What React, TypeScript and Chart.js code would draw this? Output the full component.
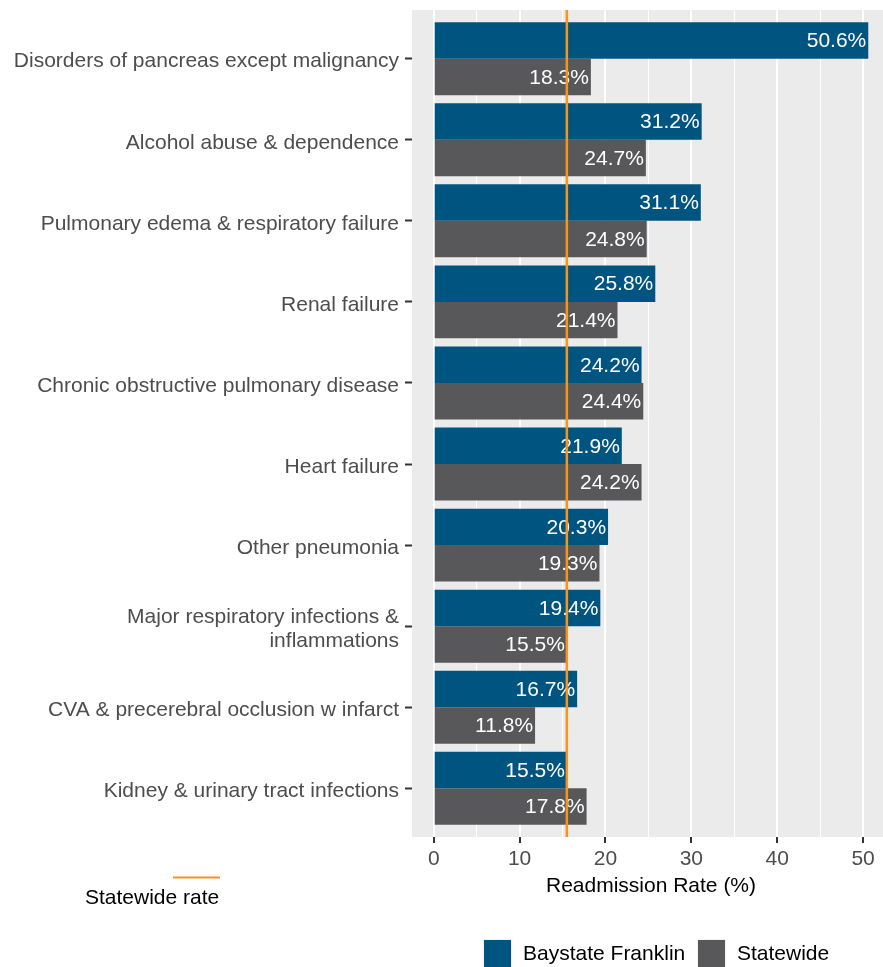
import React, { useEffect, useRef } from "react";
import { Chart, registerables } from "chart.js";

Chart.register(...registerables);

const categories: (string | string[])[] = [
  "Disorders of pancreas except malignancy",
  "Alcohol abuse & dependence",
  "Pulmonary edema & respiratory failure",
  "Renal failure",
  "Chronic obstructive pulmonary disease",
  "Heart failure",
  "Other pneumonia",
  ["Major respiratory infections &", "inflammations"],
  "CVA & precerebral occlusion w infarct",
  "Kidney & urinary tract infections",
];
const baystateValues = [50.6, 31.2, 31.1, 25.8, 24.2, 21.9, 20.3, 19.4, 16.7, 15.5];
const statewideValues = [18.3, 24.7, 24.8, 21.4, 24.4, 24.2, 19.3, 15.5, 11.8, 17.8];
const statewideRate = 15.5;
const xTickValues = [0, 5, 10, 15, 20, 25, 30, 35, 40, 45, 50];
const seriesNames = ["Baystate Franklin", "Statewide"];

const BLUE = "#005580";
const GRAY = "#58585B";
const ORANGE = "#F7941D";
const PANEL = "#EBEBEB";
const FONT = '"Liberation Sans", Arial, sans-serif';

export default function App() {
  const ref = useRef<HTMLCanvasElement>(null);

  useEffect(() => {
    if (!ref.current) return;

    const panelPlugin = {
      id: "panelBg",
      beforeDraw(chart: any) {
        const { ctx, chartArea } = chart;
        ctx.save();
        ctx.fillStyle = PANEL;
        ctx.fillRect(chartArea.left, chartArea.top, chartArea.right - chartArea.left, chartArea.bottom - chartArea.top);
        ctx.restore();
      },
    };

    const overlayPlugin = {
      id: "overlay",
      afterDatasetsDraw(chart: any) {
        const { ctx, chartArea } = chart;
        const xs = chart.scales.x;
        ctx.save();
        ctx.font = `21px ${FONT}`;
        ctx.fillStyle = "#FFFFFF";
        ctx.textAlign = "right";
        ctx.textBaseline = "middle";
        chart.data.datasets.forEach((ds: any, di: number) => {
          const meta = chart.getDatasetMeta(di);
          meta.data.forEach((el: any, i: number) => {
            const v = ds.data[i].x;
            ctx.fillText(`${v.toFixed(1)}%`, el.x - 2, el.y + 1);
          });
        });
        const px = xs.getPixelForValue(statewideRate);
        ctx.strokeStyle = ORANGE;
        ctx.lineWidth = 2.5;
        ctx.beginPath();
        ctx.moveTo(px, chartArea.top);
        ctx.lineTo(px, chartArea.bottom);
        ctx.stroke();
        ctx.restore();
      },
      afterDraw(chart: any) {
        const { ctx, chartArea } = chart;
        ctx.save();
        ctx.font = `21px ${FONT}`;
        ctx.fillStyle = "#000000";
        ctx.textAlign = "center";
        ctx.textBaseline = "middle";
        ctx.fillText("Readmission Rate (%)", (chartArea.left + chartArea.right) / 2, 886);
        ctx.strokeStyle = ORANGE;
        ctx.lineWidth = 2;
        ctx.beginPath();
        ctx.moveTo(173, 877.5);
        ctx.lineTo(220, 877.5);
        ctx.stroke();
        ctx.textAlign = "left";
        ctx.fillText("Statewide rate", 85, 898);
        const items = [
          { x: 484, color: BLUE, label: seriesNames[0] },
          { x: 698, color: GRAY, label: seriesNames[1] },
        ];
        items.forEach((it) => {
          ctx.fillStyle = "#F2F2F2";
          ctx.fillRect(it.x - 1, 939, 29, 29);
          ctx.fillStyle = it.color;
          ctx.fillRect(it.x, 940, 27, 27);
          ctx.fillStyle = "#000000";
          ctx.fillText(it.label, it.x + 39, 954);
        });
        ctx.restore();
      },
    };

    const chart = new Chart(ref.current, {
      type: "bar",
      data: {
        datasets: [
          {
            label: seriesNames[0],
            data: baystateValues.map((v, i) => ({ x: v, y: i })),
            backgroundColor: BLUE,
            categoryPercentage: 0.9,
            barPercentage: 1,
          },
          {
            label: seriesNames[1],
            data: statewideValues.map((v, i) => ({ x: v, y: i })),
            backgroundColor: GRAY,
            categoryPercentage: 0.9,
            barPercentage: 1,
          },
        ],
      },
      options: {
        indexAxis: "y",
        animation: false,
        responsive: false,
        layout: { padding: { top: 10, right: 1, bottom: 0, left: 0 } },
        plugins: { legend: { display: false }, tooltip: { enabled: false } },
        scales: {
          x: {
            type: "linear",
            min: -2.53,
            max: 53.13,
            offset: false,
            border: { display: false },
            afterBuildTicks(scale: any) {
              scale.ticks = xTickValues.map((v) => ({ value: v }));
            },
            afterFit(scale: any) {
              scale.height = 130;
              scale.paddingLeft = 0;
              scale.paddingRight = 0;
            },
            grid: {
              offset: false,
              color: "#FFFFFF",
              lineWidth: (c: any) => (c.tick && c.tick.value % 10 === 0 ? 2 : 1),
              tickColor: (c: any) => (c.tick && c.tick.value % 10 === 0 ? "#333333" : "rgba(0,0,0,0)"),
              tickLength: 6,
              tickWidth: 2,
            },
            ticks: {
              autoSkip: false,
              maxRotation: 0,
              padding: 4,
              color: "#4D4D4D",
              font: { family: FONT, size: 21 },
              callback: (v: any) => (Number(v) % 10 === 0 ? String(v) : ""),
            },
          },
          y: {
            type: "linear",
            min: -0.6,
            max: 9.6,
            reverse: true,
            offset: false,
            border: { display: false },
            afterBuildTicks(scale: any) {
              scale.ticks = categories.map((_, i) => ({ value: i }));
            },
            afterFit(scale: any) {
              scale.width = 412;
              scale.paddingTop = 0;
              scale.paddingBottom = 0;
            },
            grid: {
              offset: false,
              drawOnChartArea: false,
              tickColor: "#333333",
              tickLength: 7,
              tickWidth: 2,
            },
            ticks: {
              autoSkip: false,
              padding: 6,
              labelOffset: 3,
              color: "#4D4D4D",
              font: { family: FONT, size: 21, lineHeight: 1.1 },
              callback: (v: any) => categories[Number(v)] as any,
            },
          },
        },
      },
      plugins: [panelPlugin, overlayPlugin],
    } as any);

    return () => chart.destroy();
  }, []);

  return (
    <div style={{ position: "absolute", left: 0, top: 0, width: 883, height: 967, overflow: "hidden", background: "#FFFFFF" }}>
      <canvas ref={ref} width={891} height={967} style={{ display: "block", width: 891, height: 967 }} />
    </div>
  );
}
